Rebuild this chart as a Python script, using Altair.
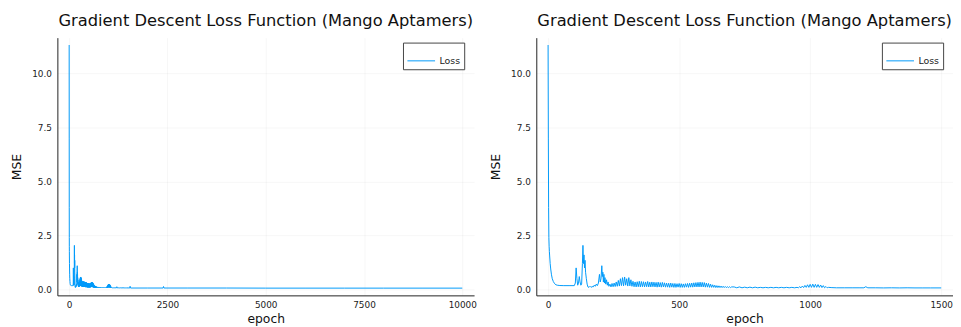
import altair as alt
import pandas as pd

TITLE = "Gradient Descent Loss Function (Mango Aptamers)"
SERIES = "Loss"
X_TITLE = "epoch"
Y_TITLE = "MSE"
LEFT_XTICKS = [0, 2500, 5000, 7500, 10000]
RIGHT_XTICKS = [0, 500, 1000, 1500]
YTICKS = [0, 2.5, 5, 7.5, 10]

# initial fast decay
decay_epochs = [0, 1, 2, 3, 4, 5, 6, 8, 10, 13, 16, 20, 25, 30, 35, 45, 60, 80]
decay_loss = [11.3, 7.0, 3.8, 2.4, 2.0, 1.75, 1.55, 1.2, 0.95, 0.68, 0.5, 0.37, 0.27, 0.22, 0.2, 0.185, 0.18, 0.18]

# spikes
spike_epochs = [100, 104, 107, 110, 113, 116, 119, 122, 125, 128,
                131, 133, 135, 137, 139, 141, 143, 146, 149, 152,
                156, 160, 164, 168, 172, 176, 180, 184, 188, 192,
                196, 199, 202, 205, 207, 209, 211, 213, 215, 217,
                220, 223, 226, 229, 232, 236, 240]
spike_loss = [0.18, 0.3, 1.0, 0.5, 0.2, 0.3, 0.6, 0.35, 0.2, 0.25,
              1.2, 2.04, 1.2, 1.6, 1.0, 1.35, 0.8, 0.5, 0.25, 0.12,
              0.1, 0.15, 0.1, 0.14, 0.12, 0.2, 0.15, 0.25, 0.18, 0.3,
              0.7, 0.35, 0.5, 1.1, 0.6, 0.8, 0.35, 0.7, 0.3, 0.55,
              0.25, 0.45, 0.2, 0.35, 0.15, 0.25, 0.12]

# oscillating band, epochs 244..700 every 4
osc_start, osc_step = 244, 4
osc_loss = [0.28, 0.13, 0.3, 0.14, 0.35, 0.15, 0.42, 0.16, 0.5, 0.18,
            0.55, 0.17, 0.58, 0.2, 0.5, 0.16, 0.55, 0.17, 0.45, 0.15,
            0.38, 0.13, 0.35, 0.12, 0.36, 0.13, 0.38, 0.12, 0.37, 0.13,
            0.36, 0.12, 0.35, 0.13, 0.37, 0.12, 0.34, 0.12, 0.35, 0.13,
            0.34, 0.12, 0.33, 0.11, 0.34, 0.12, 0.32, 0.11, 0.33, 0.12,
            0.31, 0.11, 0.3, 0.11, 0.29, 0.1, 0.3, 0.11, 0.28, 0.1,
            0.28, 0.1, 0.27, 0.11, 0.28, 0.1, 0.27, 0.1, 0.26, 0.1,
            0.27, 0.11, 0.28, 0.1, 0.29, 0.11, 0.3, 0.11, 0.31, 0.12,
            0.32, 0.12, 0.33, 0.12, 0.34, 0.12, 0.33, 0.12, 0.32, 0.11,
            0.3, 0.11, 0.28, 0.1, 0.25, 0.1, 0.22, 0.1, 0.2, 0.09,
            0.18, 0.09, 0.17, 0.09, 0.16, 0.09, 0.15, 0.09, 0.14, 0.09,
            0.13, 0.09, 0.13, 0.09, 0.12]

# narrow band, epochs 710..940 every 10
narrow_start, narrow_step = 710, 10
narrow_loss = [0.12, 0.08, 0.12, 0.08, 0.11, 0.08, 0.11, 0.08, 0.11, 0.08,
               0.1, 0.08, 0.1, 0.08, 0.1, 0.08, 0.1, 0.08, 0.1, 0.08,
               0.1, 0.08, 0.1, 0.08]

# bump around 1000, epochs 950..1070 every 5
bump_start, bump_step = 950, 5
bump_loss = [0.1, 0.08, 0.13, 0.08, 0.16, 0.09, 0.19, 0.1, 0.22, 0.1,
             0.24, 0.1, 0.25, 0.1, 0.24, 0.1, 0.23, 0.1, 0.21, 0.09,
             0.18, 0.08, 0.14, 0.08, 0.1]

# tail
tail_epochs = [1080, 1100, 1130, 1160, 1190, 1205, 1212, 1220, 1250, 1280, 1310, 1340,
               1370, 1400, 1430, 1460, 1500, 1540, 1550, 1560, 2000, 2390, 2400, 2410,
               3000, 4000, 5000, 6000, 7000, 8000, 9000, 10000]
tail_loss = [0.09, 0.08, 0.08, 0.08, 0.08, 0.08, 0.13, 0.08, 0.08, 0.075, 0.08, 0.075,
             0.08, 0.075, 0.075, 0.075, 0.075, 0.07, 0.15, 0.07, 0.07, 0.07, 0.14, 0.07,
             0.07, 0.07, 0.065, 0.065, 0.065, 0.065, 0.065, 0.065]

epochs = (decay_epochs + spike_epochs
          + [osc_start + i * osc_step for i in range(len(osc_loss))]
          + [narrow_start + i * narrow_step for i in range(len(narrow_loss))]
          + [bump_start + i * bump_step for i in range(len(bump_loss))]
          + tail_epochs)
loss = decay_loss + spike_loss + osc_loss + narrow_loss + bump_loss + tail_loss

df = pd.DataFrame({"epoch": epochs, "loss": loss, "series": SERIES})

FONT = "DejaVu Sans"
YDOMAIN = [-0.27, 11.64]


def panel(data, xdomain, xticks):
    return alt.Chart(data).mark_line(strokeWidth=1, clip=True).encode(
        x=alt.X("epoch:Q",
                scale=alt.Scale(domain=xdomain, nice=False, zero=False),
                axis=alt.Axis(values=xticks, format="d", title=X_TITLE)),
        y=alt.Y("loss:Q",
                scale=alt.Scale(domain=YDOMAIN, nice=False, zero=False),
                axis=alt.Axis(values=YTICKS, format=".1f", title=Y_TITLE)),
        color=alt.Color("series:N",
                        scale=alt.Scale(domain=[SERIES], range=["#009AFA"]),
                        legend=alt.Legend(title=None, orient="none", legendX=350, legendY=5,
                                          padding=4, strokeColor="#444444", fillColor="white",
                                          symbolType="stroke", symbolSize=784,
                                          symbolStrokeWidth=1, labelFontSize=9.5, labelFont=FONT,
                                          labelColor="#222222", labelOffset=4, cornerRadius=0)),
    ).properties(width=422, height=261,
                 title=alt.TitleParams(TITLE, anchor="middle"))


left = panel(df, [-300, 10300], LEFT_XTICKS)
right = panel(df[df["epoch"] <= 1500], [-45, 1545], RIGHT_XTICKS)

chart = alt.hconcat(left, right, spacing=12).resolve_legend(color="independent").properties(
    padding={"left": 2, "top": 3, "right": 0, "bottom": 0}
).configure_view(stroke=None).configure_axis(
    domainColor="#222222", domainWidth=1, ticks=False,
    grid=True, gridColor="#000000", gridOpacity=0.08, gridWidth=0.5,
    labelFont=FONT, labelFontSize=9, labelColor="#222222",
    titleFont=FONT, titleFontSize=12.5, titleFontWeight="normal", titleColor="#111111",
).configure_axisX(labelPadding=5, titlePadding=3).configure_axisY(
    labelPadding=6, titlePadding=8
).configure_title(font=FONT, fontSize=16.5, fontWeight="normal", color="#111111", offset=8)

chart.save("out.html", embed_options={"renderer": "svg", "actions": False})
